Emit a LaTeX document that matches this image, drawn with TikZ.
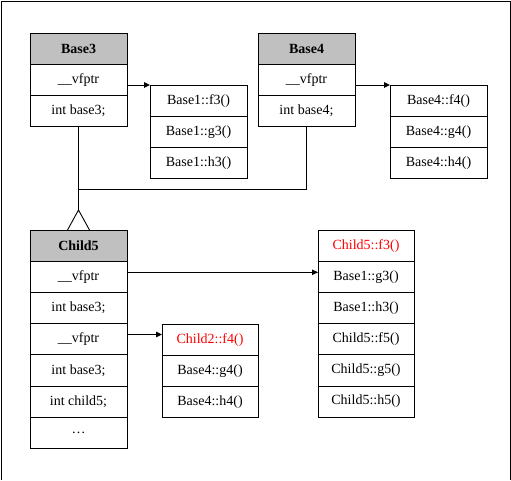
\documentclass[tikz,border=0pt]{standalone}
\usepackage{fontspec}
\setmainfont{Liberation Serif}
\usetikzlibrary{arrows.meta,calc}
\definecolor{hdr}{RGB}{192,192,192}
\begin{document}
\begin{tikzpicture}[x=1pt,y=-1pt,
  cell/.style={draw, line width=0.9pt, outer sep=0pt, minimum width=97pt, minimum height=31.2pt, inner sep=0pt, anchor=north west, font=\fontsize{14}{16}\selectfont},
  hcell/.style={cell, fill=hdr, font=\fontsize{14}{16}\selectfont\bfseries},
  redtxt/.style={text=red},
  link/.style={line width=0.9pt},
  ptr/.style={line width=0.9pt, -{Triangle[length=6pt,width=5.5pt]}}]
\useasboundingbox (0,0) rectangle (511,480);
\draw[line width=0.9pt] (1.5,480) -- (1.5,1.5) -- (510,1.5) -- (510,480);
% Base3
\node[hcell] (b3h) at (30,33) {Base3};
\node[cell] (b3v) at (30,64.2) {\_\_vfptr};
\node[cell] (b3i) at (30,95.4) {int base3;};
% Base1 vtable
\node[cell] (t1a) at (150,85) {Base1::f3()};
\node[cell] (t1b) at (150,116.2) {Base1::g3()};
\node[cell] (t1c) at (150,147.4) {Base1::h3()};
% Base4
\node[hcell] (b4h) at (258,33) {Base4};
\node[cell] (b4v) at (258,64.2) {\_\_vfptr};
\node[cell] (b4i) at (258,95.4) {int base4;};
% Base4 vtable
\node[cell] (t4a) at (390,85) {Base4::f4()};
\node[cell] (t4b) at (390,116.2) {Base4::g4()};
\node[cell] (t4c) at (390,147.4) {Base4::h4()};
% Child5
\node[hcell] (c5h) at (30,230) {Child5};
\node[cell] (c5v1) at (30,261.2) {\_\_vfptr};
\node[cell] (c5b3) at (30,292.4) {int base3;};
\node[cell] (c5v2) at (30,323.6) {\_\_vfptr};
\node[cell] (c5b4) at (30,354.8) {int base3;};
\node[cell] (c5c) at (30,386) {int child5;};
\node[cell] (c5d) at (30,417.2) {…};
% Child2 vtable
\node[cell, minimum width=96pt, redtxt] (t2a) at (162,324) {Child2::f4()};
\node[cell, minimum width=96pt] (t2b) at (162,355.2) {Base4::g4()};
\node[cell, minimum width=96pt] (t2c) at (162,386.4) {Base4::h4()};
% Child5 vtable
\node[cell, minimum width=96pt, redtxt] (t5a) at (318,230) {Child5::f3()};
\node[cell, minimum width=96pt] (t5b) at (318,261.2) {Base1::g3()};
\node[cell, minimum width=96pt] (t5c) at (318,292.4) {Base1::h3()};
\node[cell, minimum width=96pt] (t5d) at (318,323.6) {Child5::f5()};
\node[cell, minimum width=96pt] (t5e) at (318,354.8) {Child5::g5()};
\node[cell, minimum width=96pt] (t5f) at (318,386) {Child5::h5()};
% pointers
\draw[ptr] (b3v.east |- t1a.north west) -- (t1a.north west);
\draw[ptr] (b4v.east |- t4a.north west) -- (t4a.north west);
\draw[ptr] ([yshift=4.5pt]c5v1.east) -- ([yshift=4.5pt]c5v1.east -| t5b.west);
\draw[ptr] ([yshift=4.7pt]c5v2.east) -- ([yshift=4.7pt]c5v2.east -| t2a.west);
% inheritance
\coordinate (apex) at (78.5,210);
\coordinate (join) at (78.5,189);
\draw[link] (b3i.south) -- (apex);
\draw[link] (b4i.south) |- (join);
\draw[link] (apex) -- (67.5,230) (apex) -- (89.5,230);
\end{tikzpicture}
\end{document}
